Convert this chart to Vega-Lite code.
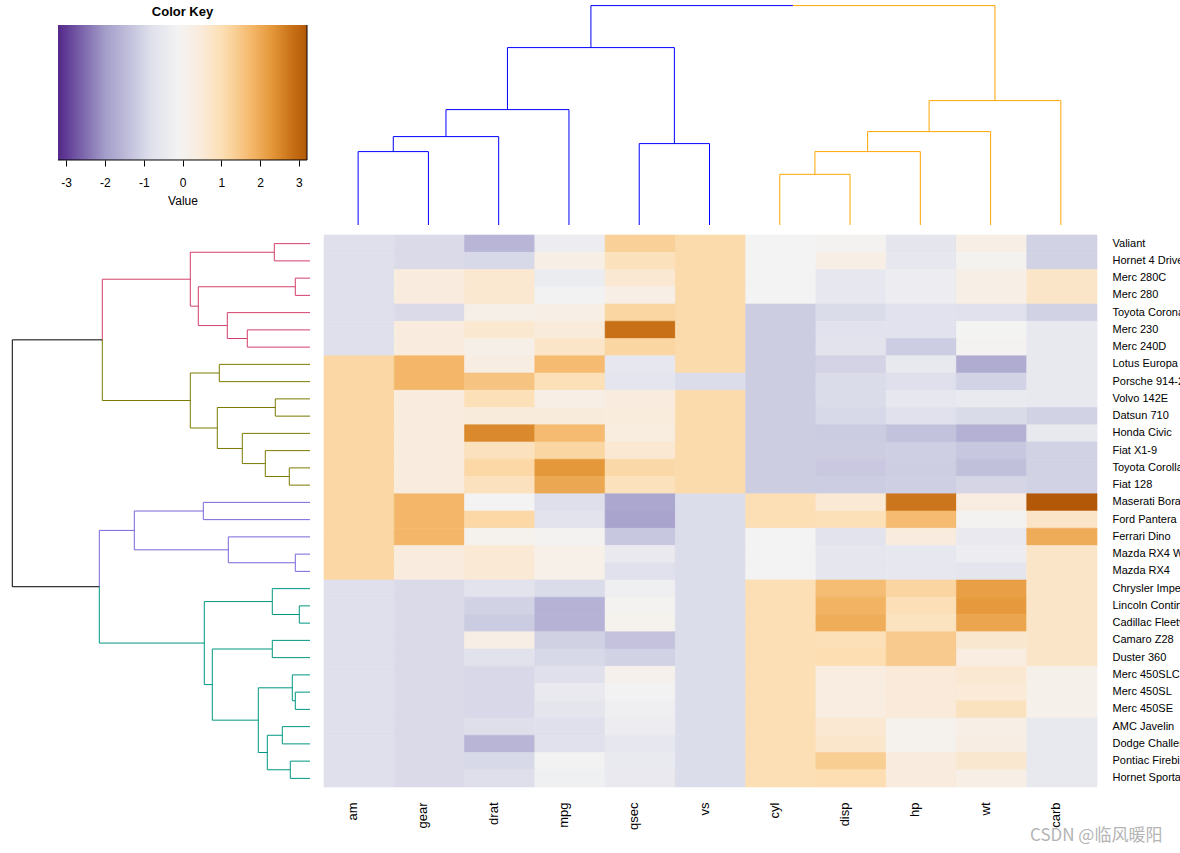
{
 "$schema": "https://vega.github.io/schema/vega-lite/v6.json",
 "padding": {"top": 5, "left": 0, "right": 0, "bottom": 0},
 "config": {"view": {"stroke": null}, "font": "Liberation Sans"},
 "title": {"text": "CSDN @临风暖阳", "orient": "bottom", "anchor": "start", "frame": "bounds", "fontSize": 17, "fontWeight": "normal", "color": "#b4b4b4", "font": "Noto Sans CJK SC", "offset": -1, "dx": 1030},
 "datasets": {
  "key": [{"lo": -3.21, "hi": 3.21, "b": 0, "t": 1}],
  "colTree": [
   {"a":0,"a2":73.4,"b":0,"b2":0,"k":"bl"},
   {"a":0,"a2":73.4,"b":1,"b2":1,"k":"bl"},
   {"a":73.4,"a2":73.4,"b":0,"b2":1,"k":"bl"},
   {"a":73.4,"a2":88.4,"b":0.5,"b2":0.5,"k":"bl"},
   {"a":0,"a2":88.4,"b":2,"b2":2,"k":"bl"},
   {"a":88.4,"a2":88.4,"b":0.5,"b2":2,"k":"bl"},
   {"a":88.4,"a2":115.4,"b":1.25,"b2":1.25,"k":"bl"},
   {"a":0,"a2":115.4,"b":3,"b2":3,"k":"bl"},
   {"a":115.4,"a2":115.4,"b":1.25,"b2":3,"k":"bl"},
   {"a":0,"a2":81.4,"b":4,"b2":4,"k":"bl"},
   {"a":0,"a2":81.4,"b":5,"b2":5,"k":"bl"},
   {"a":81.4,"a2":81.4,"b":4,"b2":5,"k":"bl"},
   {"a":115.4,"a2":177.4,"b":2.125,"b2":2.125,"k":"bl"},
   {"a":81.4,"a2":177.4,"b":4.5,"b2":4.5,"k":"bl"},
   {"a":177.4,"a2":177.4,"b":2.125,"b2":4.5,"k":"bl"},
   {"a":177.4,"a2":219.4,"b":3.3125,"b2":3.3125,"k":"bl"},
   {"a":219.4,"a2":219.4,"b":3.3125,"b2":6.1875,"k":"bl"},
   {"a":0,"a2":50.7,"b":6,"b2":6,"k":"or"},
   {"a":0,"a2":50.7,"b":7,"b2":7,"k":"or"},
   {"a":50.7,"a2":50.7,"b":6,"b2":7,"k":"or"},
   {"a":50.7,"a2":73.4,"b":6.5,"b2":6.5,"k":"or"},
   {"a":0,"a2":73.4,"b":8,"b2":8,"k":"or"},
   {"a":73.4,"a2":73.4,"b":6.5,"b2":8,"k":"or"},
   {"a":73.4,"a2":93.4,"b":7.25,"b2":7.25,"k":"or"},
   {"a":0,"a2":93.4,"b":9,"b2":9,"k":"or"},
   {"a":93.4,"a2":93.4,"b":7.25,"b2":9,"k":"or"},
   {"a":93.4,"a2":124.4,"b":8.125,"b2":8.125,"k":"or"},
   {"a":0,"a2":124.4,"b":10,"b2":10,"k":"or"},
   {"a":124.4,"a2":124.4,"b":8.125,"b2":10,"k":"or"},
   {"a":124.4,"a2":219.4,"b":9.0625,"b2":9.0625,"k":"or"},
   {"a":219.4,"a2":219.4,"b":6.1875,"b2":9.0625,"k":"or"}
  ],
  "rowTree": [
   {"a":0,"a2":35.7,"b":0,"b2":0,"k":"pk"},
   {"a":0,"a2":35.7,"b":1,"b2":1,"k":"pk"},
   {"a":35.7,"a2":35.7,"b":0,"b2":1,"k":"pk"},
   {"a":0,"a2":14.7,"b":2,"b2":2,"k":"pk"},
   {"a":0,"a2":14.7,"b":3,"b2":3,"k":"pk"},
   {"a":14.7,"a2":14.7,"b":2,"b2":3,"k":"pk"},
   {"a":0,"a2":62.7,"b":5,"b2":5,"k":"pk"},
   {"a":0,"a2":62.7,"b":6,"b2":6,"k":"pk"},
   {"a":62.7,"a2":62.7,"b":5,"b2":6,"k":"pk"},
   {"a":0,"a2":82.7,"b":4,"b2":4,"k":"pk"},
   {"a":62.7,"a2":82.7,"b":5.5,"b2":5.5,"k":"pk"},
   {"a":82.7,"a2":82.7,"b":4,"b2":5.5,"k":"pk"},
   {"a":14.7,"a2":111.7,"b":2.5,"b2":2.5,"k":"pk"},
   {"a":82.7,"a2":111.7,"b":4.75,"b2":4.75,"k":"pk"},
   {"a":111.7,"a2":111.7,"b":2.5,"b2":4.75,"k":"pk"},
   {"a":35.7,"a2":119.7,"b":0.5,"b2":0.5,"k":"pk"},
   {"a":111.7,"a2":119.7,"b":3.625,"b2":3.625,"k":"pk"},
   {"a":119.7,"a2":119.7,"b":0.5,"b2":3.625,"k":"pk"},
   {"a":119.7,"a2":207.7,"b":2.0625,"b2":2.0625,"k":"pk"},
   {"a":207.7,"a2":207.7,"b":2.0625,"b2":5.578,"k":"pk"},
   {"a":0,"a2":90.7,"b":7,"b2":7,"k":"ol"},
   {"a":0,"a2":90.7,"b":8,"b2":8,"k":"ol"},
   {"a":90.7,"a2":90.7,"b":7,"b2":8,"k":"ol"},
   {"a":0,"a2":34.7,"b":9,"b2":9,"k":"ol"},
   {"a":0,"a2":34.7,"b":10,"b2":10,"k":"ol"},
   {"a":34.7,"a2":34.7,"b":9,"b2":10,"k":"ol"},
   {"a":0,"a2":20.7,"b":13,"b2":13,"k":"ol"},
   {"a":0,"a2":20.7,"b":14,"b2":14,"k":"ol"},
   {"a":20.7,"a2":20.7,"b":13,"b2":14,"k":"ol"},
   {"a":0,"a2":44.7,"b":12,"b2":12,"k":"ol"},
   {"a":20.7,"a2":44.7,"b":13.5,"b2":13.5,"k":"ol"},
   {"a":44.7,"a2":44.7,"b":12,"b2":13.5,"k":"ol"},
   {"a":0,"a2":67.7,"b":11,"b2":11,"k":"ol"},
   {"a":44.7,"a2":67.7,"b":12.75,"b2":12.75,"k":"ol"},
   {"a":67.7,"a2":67.7,"b":11,"b2":12.75,"k":"ol"},
   {"a":34.7,"a2":92.7,"b":9.5,"b2":9.5,"k":"ol"},
   {"a":67.7,"a2":92.7,"b":11.875,"b2":11.875,"k":"ol"},
   {"a":92.7,"a2":92.7,"b":9.5,"b2":11.875,"k":"ol"},
   {"a":90.7,"a2":119.7,"b":7.5,"b2":7.5,"k":"ol"},
   {"a":92.7,"a2":119.7,"b":10.6875,"b2":10.6875,"k":"ol"},
   {"a":119.7,"a2":119.7,"b":7.5,"b2":10.6875,"k":"ol"},
   {"a":119.7,"a2":207.7,"b":9.094,"b2":9.094,"k":"ol"},
   {"a":207.7,"a2":207.7,"b":5.578,"b2":9.094,"k":"ol"},
   {"a":0,"a2":106.7,"b":15,"b2":15,"k":"pu"},
   {"a":0,"a2":106.7,"b":16,"b2":16,"k":"pu"},
   {"a":106.7,"a2":106.7,"b":15,"b2":16,"k":"pu"},
   {"a":0,"a2":14.7,"b":18,"b2":18,"k":"pu"},
   {"a":0,"a2":14.7,"b":19,"b2":19,"k":"pu"},
   {"a":14.7,"a2":14.7,"b":18,"b2":19,"k":"pu"},
   {"a":0,"a2":81.7,"b":17,"b2":17,"k":"pu"},
   {"a":14.7,"a2":81.7,"b":18.5,"b2":18.5,"k":"pu"},
   {"a":81.7,"a2":81.7,"b":17,"b2":18.5,"k":"pu"},
   {"a":106.7,"a2":175.7,"b":15.5,"b2":15.5,"k":"pu"},
   {"a":81.7,"a2":175.7,"b":17.75,"b2":17.75,"k":"pu"},
   {"a":175.7,"a2":175.7,"b":15.5,"b2":17.75,"k":"pu"},
   {"a":175.7,"a2":210.7,"b":16.625,"b2":16.625,"k":"pu"},
   {"a":210.7,"a2":210.7,"b":16.625,"b2":19.89,"k":"pu"},
   {"a":0,"a2":10.7,"b":21,"b2":21,"k":"te"},
   {"a":0,"a2":10.7,"b":22,"b2":22,"k":"te"},
   {"a":10.7,"a2":10.7,"b":21,"b2":22,"k":"te"},
   {"a":0,"a2":37.7,"b":20,"b2":20,"k":"te"},
   {"a":10.7,"a2":37.7,"b":21.5,"b2":21.5,"k":"te"},
   {"a":37.7,"a2":37.7,"b":20,"b2":21.5,"k":"te"},
   {"a":0,"a2":37.7,"b":23,"b2":23,"k":"te"},
   {"a":0,"a2":37.7,"b":24,"b2":24,"k":"te"},
   {"a":37.7,"a2":37.7,"b":23,"b2":24,"k":"te"},
   {"a":0,"a2":14.7,"b":26,"b2":26,"k":"te"},
   {"a":0,"a2":14.7,"b":27,"b2":27,"k":"te"},
   {"a":14.7,"a2":14.7,"b":26,"b2":27,"k":"te"},
   {"a":0,"a2":17.7,"b":25,"b2":25,"k":"te"},
   {"a":14.7,"a2":17.7,"b":26.5,"b2":26.5,"k":"te"},
   {"a":17.7,"a2":17.7,"b":25,"b2":26.5,"k":"te"},
   {"a":0,"a2":27.7,"b":28,"b2":28,"k":"te"},
   {"a":0,"a2":27.7,"b":29,"b2":29,"k":"te"},
   {"a":27.7,"a2":27.7,"b":28,"b2":29,"k":"te"},
   {"a":0,"a2":19.7,"b":30,"b2":30,"k":"te"},
   {"a":0,"a2":19.7,"b":31,"b2":31,"k":"te"},
   {"a":19.7,"a2":19.7,"b":30,"b2":31,"k":"te"},
   {"a":27.7,"a2":42.7,"b":28.5,"b2":28.5,"k":"te"},
   {"a":19.7,"a2":42.7,"b":30.5,"b2":30.5,"k":"te"},
   {"a":42.7,"a2":42.7,"b":28.5,"b2":30.5,"k":"te"},
   {"a":17.7,"a2":51.7,"b":25.75,"b2":25.75,"k":"te"},
   {"a":42.7,"a2":51.7,"b":29.5,"b2":29.5,"k":"te"},
   {"a":51.7,"a2":51.7,"b":25.75,"b2":29.5,"k":"te"},
   {"a":37.7,"a2":97.7,"b":23.5,"b2":23.5,"k":"te"},
   {"a":51.7,"a2":97.7,"b":27.625,"b2":27.625,"k":"te"},
   {"a":97.7,"a2":97.7,"b":23.5,"b2":27.625,"k":"te"},
   {"a":37.7,"a2":105.7,"b":20.75,"b2":20.75,"k":"te"},
   {"a":97.7,"a2":105.7,"b":25.5625,"b2":25.5625,"k":"te"},
   {"a":105.7,"a2":105.7,"b":20.75,"b2":25.5625,"k":"te"},
   {"a":105.7,"a2":210.7,"b":23.156,"b2":23.156,"k":"te"},
   {"a":210.7,"a2":210.7,"b":19.89,"b2":23.156,"k":"te"},
   {"a":207.7,"a2":297.7,"b":5.578,"b2":5.578,"k":"bk"},
   {"a":210.7,"a2":297.7,"b":19.89,"b2":19.89,"k":"bk"},
   {"a":297.7,"a2":297.7,"b":5.578,"b2":19.89,"k":"bk"}
  ],
  "cells": [
   {"r":"Valiant","c":"am","z":-0.81},{"r":"Valiant","c":"gear","z":-0.93},{"r":"Valiant","c":"drat","z":-1.56},{"r":"Valiant","c":"mpg","z":-0.35},{"r":"Valiant","c":"qsec","z":1.33},{"r":"Valiant","c":"vs","z":1.12},{"r":"Valiant","c":"cyl","z":-0.1},{"r":"Valiant","c":"disp","z":-0.05},{"r":"Valiant","c":"hp","z":-0.61},{"r":"Valiant","c":"wt","z":0.25},{"r":"Valiant","c":"carb","z":-1.12},
   {"r":"Hornet 4 Drive","c":"am","z":-0.81},{"r":"Hornet 4 Drive","c":"gear","z":-0.93},{"r":"Hornet 4 Drive","c":"drat","z":-0.97},{"r":"Hornet 4 Drive","c":"mpg","z":0.22},{"r":"Hornet 4 Drive","c":"qsec","z":0.89},{"r":"Hornet 4 Drive","c":"vs","z":1.12},{"r":"Hornet 4 Drive","c":"cyl","z":-0.1},{"r":"Hornet 4 Drive","c":"disp","z":0.22},{"r":"Hornet 4 Drive","c":"hp","z":-0.54},{"r":"Hornet 4 Drive","c":"wt","z":0.0},{"r":"Hornet 4 Drive","c":"carb","z":-1.12},
   {"r":"Merc 280C","c":"am","z":-0.81},{"r":"Merc 280C","c":"gear","z":0.42},{"r":"Merc 280C","c":"drat","z":0.61},{"r":"Merc 280C","c":"mpg","z":-0.38},{"r":"Merc 280C","c":"qsec","z":0.59},{"r":"Merc 280C","c":"vs","z":1.12},{"r":"Merc 280C","c":"cyl","z":-0.1},{"r":"Merc 280C","c":"disp","z":-0.51},{"r":"Merc 280C","c":"hp","z":-0.35},{"r":"Merc 280C","c":"wt","z":0.23},{"r":"Merc 280C","c":"carb","z":0.74},
   {"r":"Merc 280","c":"am","z":-0.81},{"r":"Merc 280","c":"gear","z":0.42},{"r":"Merc 280","c":"drat","z":0.61},{"r":"Merc 280","c":"mpg","z":-0.15},{"r":"Merc 280","c":"qsec","z":0.25},{"r":"Merc 280","c":"vs","z":1.12},{"r":"Merc 280","c":"cyl","z":-0.1},{"r":"Merc 280","c":"disp","z":-0.51},{"r":"Merc 280","c":"hp","z":-0.35},{"r":"Merc 280","c":"wt","z":0.23},{"r":"Merc 280","c":"carb","z":0.74},
   {"r":"Toyota Corona","c":"am","z":-0.81},{"r":"Toyota Corona","c":"gear","z":-0.93},{"r":"Toyota Corona","c":"drat","z":0.19},{"r":"Toyota Corona","c":"mpg","z":0.23},{"r":"Toyota Corona","c":"qsec","z":1.21},{"r":"Toyota Corona","c":"vs","z":1.12},{"r":"Toyota Corona","c":"cyl","z":-1.22},{"r":"Toyota Corona","c":"disp","z":-0.89},{"r":"Toyota Corona","c":"hp","z":-0.73},{"r":"Toyota Corona","c":"wt","z":-0.77},{"r":"Toyota Corona","c":"carb","z":-1.12},
   {"r":"Merc 230","c":"am","z":-0.81},{"r":"Merc 230","c":"gear","z":0.42},{"r":"Merc 230","c":"drat","z":0.61},{"r":"Merc 230","c":"mpg","z":0.45},{"r":"Merc 230","c":"qsec","z":2.83},{"r":"Merc 230","c":"vs","z":1.12},{"r":"Merc 230","c":"cyl","z":-1.22},{"r":"Merc 230","c":"disp","z":-0.73},{"r":"Merc 230","c":"hp","z":-0.75},{"r":"Merc 230","c":"wt","z":-0.07},{"r":"Merc 230","c":"carb","z":-0.5},
   {"r":"Merc 240D","c":"am","z":-0.81},{"r":"Merc 240D","c":"gear","z":0.42},{"r":"Merc 240D","c":"drat","z":0.18},{"r":"Merc 240D","c":"mpg","z":0.72},{"r":"Merc 240D","c":"qsec","z":1.2},{"r":"Merc 240D","c":"vs","z":1.12},{"r":"Merc 240D","c":"cyl","z":-1.22},{"r":"Merc 240D","c":"disp","z":-0.68},{"r":"Merc 240D","c":"hp","z":-1.23},{"r":"Merc 240D","c":"wt","z":-0.03},{"r":"Merc 240D","c":"carb","z":-0.5},
   {"r":"Lotus Europa","c":"am","z":1.19},{"r":"Lotus Europa","c":"gear","z":1.78},{"r":"Lotus Europa","c":"drat","z":0.32},{"r":"Lotus Europa","c":"mpg","z":1.71},{"r":"Lotus Europa","c":"qsec","z":-0.53},{"r":"Lotus Europa","c":"vs","z":1.12},{"r":"Lotus Europa","c":"cyl","z":-1.22},{"r":"Lotus Europa","c":"disp","z":-1.09},{"r":"Lotus Europa","c":"hp","z":-0.49},{"r":"Lotus Europa","c":"wt","z":-1.74},{"r":"Lotus Europa","c":"carb","z":-0.5},
   {"r":"Porsche 914-2","c":"am","z":1.19},{"r":"Porsche 914-2","c":"gear","z":1.78},{"r":"Porsche 914-2","c":"drat","z":1.56},{"r":"Porsche 914-2","c":"mpg","z":0.98},{"r":"Porsche 914-2","c":"qsec","z":-0.64},{"r":"Porsche 914-2","c":"vs","z":-0.87},{"r":"Porsche 914-2","c":"cyl","z":-1.22},{"r":"Porsche 914-2","c":"disp","z":-0.89},{"r":"Porsche 914-2","c":"hp","z":-0.81},{"r":"Porsche 914-2","c":"wt","z":-1.1},{"r":"Porsche 914-2","c":"carb","z":-0.5},
   {"r":"Volvo 142E","c":"am","z":1.19},{"r":"Volvo 142E","c":"gear","z":0.42},{"r":"Volvo 142E","c":"drat","z":0.96},{"r":"Volvo 142E","c":"mpg","z":0.22},{"r":"Volvo 142E","c":"qsec","z":0.42},{"r":"Volvo 142E","c":"vs","z":1.12},{"r":"Volvo 142E","c":"cyl","z":-1.22},{"r":"Volvo 142E","c":"disp","z":-0.89},{"r":"Volvo 142E","c":"hp","z":-0.55},{"r":"Volvo 142E","c":"wt","z":-0.45},{"r":"Volvo 142E","c":"carb","z":-0.5},
   {"r":"Datsun 710","c":"am","z":1.19},{"r":"Datsun 710","c":"gear","z":0.42},{"r":"Datsun 710","c":"drat","z":0.47},{"r":"Datsun 710","c":"mpg","z":0.45},{"r":"Datsun 710","c":"qsec","z":0.43},{"r":"Datsun 710","c":"vs","z":1.12},{"r":"Datsun 710","c":"cyl","z":-1.22},{"r":"Datsun 710","c":"disp","z":-0.99},{"r":"Datsun 710","c":"hp","z":-0.78},{"r":"Datsun 710","c":"wt","z":-0.92},{"r":"Datsun 710","c":"carb","z":-1.12},
   {"r":"Honda Civic","c":"am","z":1.19},{"r":"Honda Civic","c":"gear","z":0.42},{"r":"Honda Civic","c":"drat","z":2.49},{"r":"Honda Civic","c":"mpg","z":1.71},{"r":"Honda Civic","c":"qsec","z":0.38},{"r":"Honda Civic","c":"vs","z":1.12},{"r":"Honda Civic","c":"cyl","z":-1.22},{"r":"Honda Civic","c":"disp","z":-1.25},{"r":"Honda Civic","c":"hp","z":-1.38},{"r":"Honda Civic","c":"wt","z":-1.64},{"r":"Honda Civic","c":"carb","z":-0.5},
   {"r":"Fiat X1-9","c":"am","z":1.19},{"r":"Fiat X1-9","c":"gear","z":0.42},{"r":"Fiat X1-9","c":"drat","z":0.9},{"r":"Fiat X1-9","c":"mpg","z":1.2},{"r":"Fiat X1-9","c":"qsec","z":0.59},{"r":"Fiat X1-9","c":"vs","z":1.12},{"r":"Fiat X1-9","c":"cyl","z":-1.22},{"r":"Fiat X1-9","c":"disp","z":-1.22},{"r":"Fiat X1-9","c":"hp","z":-1.18},{"r":"Fiat X1-9","c":"wt","z":-1.31},{"r":"Fiat X1-9","c":"carb","z":-1.12},
   {"r":"Toyota Corolla","c":"am","z":1.19},{"r":"Toyota Corolla","c":"gear","z":0.42},{"r":"Toyota Corolla","c":"drat","z":1.17},{"r":"Toyota Corolla","c":"mpg","z":2.29},{"r":"Toyota Corolla","c":"qsec","z":1.15},{"r":"Toyota Corolla","c":"vs","z":1.12},{"r":"Toyota Corolla","c":"cyl","z":-1.22},{"r":"Toyota Corolla","c":"disp","z":-1.29},{"r":"Toyota Corolla","c":"hp","z":-1.19},{"r":"Toyota Corolla","c":"wt","z":-1.41},{"r":"Toyota Corolla","c":"carb","z":-1.12},
   {"r":"Fiat 128","c":"am","z":1.19},{"r":"Fiat 128","c":"gear","z":0.42},{"r":"Fiat 128","c":"drat","z":0.9},{"r":"Fiat 128","c":"mpg","z":2.04},{"r":"Fiat 128","c":"qsec","z":0.91},{"r":"Fiat 128","c":"vs","z":1.12},{"r":"Fiat 128","c":"cyl","z":-1.22},{"r":"Fiat 128","c":"disp","z":-1.23},{"r":"Fiat 128","c":"hp","z":-1.18},{"r":"Fiat 128","c":"wt","z":-1.04},{"r":"Fiat 128","c":"carb","z":-1.12},
   {"r":"Maserati Bora","c":"am","z":1.19},{"r":"Maserati Bora","c":"gear","z":1.78},{"r":"Maserati Bora","c":"drat","z":-0.11},{"r":"Maserati Bora","c":"mpg","z":-0.84},{"r":"Maserati Bora","c":"qsec","z":-1.82},{"r":"Maserati Bora","c":"vs","z":-0.87},{"r":"Maserati Bora","c":"cyl","z":1.01},{"r":"Maserati Bora","c":"disp","z":0.57},{"r":"Maserati Bora","c":"hp","z":2.75},{"r":"Maserati Bora","c":"wt","z":0.36},{"r":"Maserati Bora","c":"carb","z":3.21},
   {"r":"Ford Pantera L","c":"am","z":1.19},{"r":"Ford Pantera L","c":"gear","z":1.78},{"r":"Ford Pantera L","c":"drat","z":1.17},{"r":"Ford Pantera L","c":"mpg","z":-0.71},{"r":"Ford Pantera L","c":"qsec","z":-1.87},{"r":"Ford Pantera L","c":"vs","z":-0.87},{"r":"Ford Pantera L","c":"cyl","z":1.01},{"r":"Ford Pantera L","c":"disp","z":0.97},{"r":"Ford Pantera L","c":"hp","z":1.71},{"r":"Ford Pantera L","c":"wt","z":-0.05},{"r":"Ford Pantera L","c":"carb","z":0.74},
   {"r":"Ferrari Dino","c":"am","z":1.19},{"r":"Ferrari Dino","c":"gear","z":1.78},{"r":"Ferrari Dino","c":"drat","z":0.04},{"r":"Ferrari Dino","c":"mpg","z":-0.06},{"r":"Ferrari Dino","c":"qsec","z":-1.31},{"r":"Ferrari Dino","c":"vs","z":-0.87},{"r":"Ferrari Dino","c":"cyl","z":-0.1},{"r":"Ferrari Dino","c":"disp","z":-0.69},{"r":"Ferrari Dino","c":"hp","z":0.41},{"r":"Ferrari Dino","c":"wt","z":-0.46},{"r":"Ferrari Dino","c":"carb","z":1.97},
   {"r":"Mazda RX4 Wag","c":"am","z":1.19},{"r":"Mazda RX4 Wag","c":"gear","z":0.42},{"r":"Mazda RX4 Wag","c":"drat","z":0.57},{"r":"Mazda RX4 Wag","c":"mpg","z":0.15},{"r":"Mazda RX4 Wag","c":"qsec","z":-0.46},{"r":"Mazda RX4 Wag","c":"vs","z":-0.87},{"r":"Mazda RX4 Wag","c":"cyl","z":-0.1},{"r":"Mazda RX4 Wag","c":"disp","z":-0.57},{"r":"Mazda RX4 Wag","c":"hp","z":-0.54},{"r":"Mazda RX4 Wag","c":"wt","z":-0.35},{"r":"Mazda RX4 Wag","c":"carb","z":0.74},
   {"r":"Mazda RX4","c":"am","z":1.19},{"r":"Mazda RX4","c":"gear","z":0.42},{"r":"Mazda RX4","c":"drat","z":0.57},{"r":"Mazda RX4","c":"mpg","z":0.15},{"r":"Mazda RX4","c":"qsec","z":-0.78},{"r":"Mazda RX4","c":"vs","z":-0.87},{"r":"Mazda RX4","c":"cyl","z":-0.1},{"r":"Mazda RX4","c":"disp","z":-0.57},{"r":"Mazda RX4","c":"hp","z":-0.54},{"r":"Mazda RX4","c":"wt","z":-0.61},{"r":"Mazda RX4","c":"carb","z":0.74},
   {"r":"Chrysler Imperial","c":"am","z":-0.81},{"r":"Chrysler Imperial","c":"gear","z":-0.93},{"r":"Chrysler Imperial","c":"drat","z":-0.69},{"r":"Chrysler Imperial","c":"mpg","z":-0.89},{"r":"Chrysler Imperial","c":"qsec","z":-0.24},{"r":"Chrysler Imperial","c":"vs","z":-0.87},{"r":"Chrysler Imperial","c":"cyl","z":1.01},{"r":"Chrysler Imperial","c":"disp","z":1.69},{"r":"Chrysler Imperial","c":"hp","z":1.22},{"r":"Chrysler Imperial","c":"wt","z":2.17},{"r":"Chrysler Imperial","c":"carb","z":0.74},
   {"r":"Lincoln Continental","c":"am","z":-0.81},{"r":"Lincoln Continental","c":"gear","z":-0.93},{"r":"Lincoln Continental","c":"drat","z":-1.12},{"r":"Lincoln Continental","c":"mpg","z":-1.61},{"r":"Lincoln Continental","c":"qsec","z":-0.02},{"r":"Lincoln Continental","c":"vs","z":-0.87},{"r":"Lincoln Continental","c":"cyl","z":1.01},{"r":"Lincoln Continental","c":"disp","z":1.85},{"r":"Lincoln Continental","c":"hp","z":1.0},{"r":"Lincoln Continental","c":"wt","z":2.26},{"r":"Lincoln Continental","c":"carb","z":0.74},
   {"r":"Cadillac Fleetwood","c":"am","z":-0.81},{"r":"Cadillac Fleetwood","c":"gear","z":-0.93},{"r":"Cadillac Fleetwood","c":"drat","z":-1.25},{"r":"Cadillac Fleetwood","c":"mpg","z":-1.61},{"r":"Cadillac Fleetwood","c":"qsec","z":0.07},{"r":"Cadillac Fleetwood","c":"vs","z":-0.87},{"r":"Cadillac Fleetwood","c":"cyl","z":1.01},{"r":"Cadillac Fleetwood","c":"disp","z":1.95},{"r":"Cadillac Fleetwood","c":"hp","z":0.85},{"r":"Cadillac Fleetwood","c":"wt","z":2.08},{"r":"Cadillac Fleetwood","c":"carb","z":0.74},
   {"r":"Camaro Z28","c":"am","z":-0.81},{"r":"Camaro Z28","c":"gear","z":-0.93},{"r":"Camaro Z28","c":"drat","z":0.25},{"r":"Camaro Z28","c":"mpg","z":-1.13},{"r":"Camaro Z28","c":"qsec","z":-1.37},{"r":"Camaro Z28","c":"vs","z":-0.87},{"r":"Camaro Z28","c":"cyl","z":1.01},{"r":"Camaro Z28","c":"disp","z":0.96},{"r":"Camaro Z28","c":"hp","z":1.43},{"r":"Camaro Z28","c":"wt","z":0.64},{"r":"Camaro Z28","c":"carb","z":0.74},
   {"r":"Duster 360","c":"am","z":-0.81},{"r":"Duster 360","c":"gear","z":-0.93},{"r":"Duster 360","c":"drat","z":-0.72},{"r":"Duster 360","c":"mpg","z":-0.96},{"r":"Duster 360","c":"qsec","z":-1.12},{"r":"Duster 360","c":"vs","z":-0.87},{"r":"Duster 360","c":"cyl","z":1.01},{"r":"Duster 360","c":"disp","z":1.04},{"r":"Duster 360","c":"hp","z":1.43},{"r":"Duster 360","c":"wt","z":0.36},{"r":"Duster 360","c":"carb","z":0.74},
   {"r":"Merc 450SLC","c":"am","z":-0.81},{"r":"Merc 450SLC","c":"gear","z":-0.93},{"r":"Merc 450SLC","c":"drat","z":-0.98},{"r":"Merc 450SLC","c":"mpg","z":-0.81},{"r":"Merc 450SLC","c":"qsec","z":0.09},{"r":"Merc 450SLC","c":"vs","z":-0.87},{"r":"Merc 450SLC","c":"cyl","z":1.01},{"r":"Merc 450SLC","c":"disp","z":0.36},{"r":"Merc 450SLC","c":"hp","z":0.49},{"r":"Merc 450SLC","c":"wt","z":0.58},{"r":"Merc 450SLC","c":"carb","z":0.12},
   {"r":"Merc 450SL","c":"am","z":-0.81},{"r":"Merc 450SL","c":"gear","z":-0.93},{"r":"Merc 450SL","c":"drat","z":-0.98},{"r":"Merc 450SL","c":"mpg","z":-0.46},{"r":"Merc 450SL","c":"qsec","z":-0.14},{"r":"Merc 450SL","c":"vs","z":-0.87},{"r":"Merc 450SL","c":"cyl","z":1.01},{"r":"Merc 450SL","c":"disp","z":0.36},{"r":"Merc 450SL","c":"hp","z":0.49},{"r":"Merc 450SL","c":"wt","z":0.52},{"r":"Merc 450SL","c":"carb","z":0.12},
   {"r":"Merc 450SE","c":"am","z":-0.81},{"r":"Merc 450SE","c":"gear","z":-0.93},{"r":"Merc 450SE","c":"drat","z":-0.98},{"r":"Merc 450SE","c":"mpg","z":-0.61},{"r":"Merc 450SE","c":"qsec","z":-0.25},{"r":"Merc 450SE","c":"vs","z":-0.87},{"r":"Merc 450SE","c":"cyl","z":1.01},{"r":"Merc 450SE","c":"disp","z":0.36},{"r":"Merc 450SE","c":"hp","z":0.49},{"r":"Merc 450SE","c":"wt","z":0.87},{"r":"Merc 450SE","c":"carb","z":0.12},
   {"r":"AMC Javelin","c":"am","z":-0.81},{"r":"AMC Javelin","c":"gear","z":-0.93},{"r":"AMC Javelin","c":"drat","z":-0.84},{"r":"AMC Javelin","c":"mpg","z":-0.81},{"r":"AMC Javelin","c":"qsec","z":-0.31},{"r":"AMC Javelin","c":"vs","z":-0.87},{"r":"AMC Javelin","c":"cyl","z":1.01},{"r":"AMC Javelin","c":"disp","z":0.59},{"r":"AMC Javelin","c":"hp","z":0.05},{"r":"AMC Javelin","c":"wt","z":0.22},{"r":"AMC Javelin","c":"carb","z":-0.5},
   {"r":"Dodge Challenger","c":"am","z":-0.81},{"r":"Dodge Challenger","c":"gear","z":-0.93},{"r":"Dodge Challenger","c":"drat","z":-1.56},{"r":"Dodge Challenger","c":"mpg","z":-0.76},{"r":"Dodge Challenger","c":"qsec","z":-0.55},{"r":"Dodge Challenger","c":"vs","z":-0.87},{"r":"Dodge Challenger","c":"cyl","z":1.01},{"r":"Dodge Challenger","c":"disp","z":0.7},{"r":"Dodge Challenger","c":"hp","z":0.05},{"r":"Dodge Challenger","c":"wt","z":0.31},{"r":"Dodge Challenger","c":"carb","z":-0.5},
   {"r":"Pontiac Firebird","c":"am","z":-0.81},{"r":"Pontiac Firebird","c":"gear","z":-0.93},{"r":"Pontiac Firebird","c":"drat","z":-0.97},{"r":"Pontiac Firebird","c":"mpg","z":-0.15},{"r":"Pontiac Firebird","c":"qsec","z":-0.45},{"r":"Pontiac Firebird","c":"vs","z":-0.87},{"r":"Pontiac Firebird","c":"cyl","z":1.01},{"r":"Pontiac Firebird","c":"disp","z":1.37},{"r":"Pontiac Firebird","c":"hp","z":0.41},{"r":"Pontiac Firebird","c":"wt","z":0.64},{"r":"Pontiac Firebird","c":"carb","z":-0.5},
   {"r":"Hornet Sportabout","c":"am","z":-0.81},{"r":"Hornet Sportabout","c":"gear","z":-0.93},{"r":"Hornet Sportabout","c":"drat","z":-0.84},{"r":"Hornet Sportabout","c":"mpg","z":-0.23},{"r":"Hornet Sportabout","c":"qsec","z":-0.46},{"r":"Hornet Sportabout","c":"vs","z":-0.87},{"r":"Hornet Sportabout","c":"cyl","z":1.01},{"r":"Hornet Sportabout","c":"disp","z":1.04},{"r":"Hornet Sportabout","c":"hp","z":0.41},{"r":"Hornet Sportabout","c":"wt","z":0.23},{"r":"Hornet Sportabout","c":"carb","z":-0.5}
  ]
 },
 "vconcat": [
  {
   "hconcat": [
    {
     "width": 307, "height": 220,
     "data": {"name": "key"},
     "layer": [
      {
       "mark": {"type": "rect", "color": {"gradient": "linear", "x1": 0, "y1": 0, "x2": 1, "y2": 0, "stops": [
         {"offset": 0, "color": "#542788"},
         {"offset": 0.0327, "color": "#603c96"},
         {"offset": 0.1885, "color": "#a39dc9"},
         {"offset": 0.257, "color": "#b8b5d6"},
         {"offset": 0.3209, "color": "#cdcde2"},
         {"offset": 0.3738, "color": "#dfe0ec"},
         {"offset": 0.4844, "color": "#f3f3f3"},
         {"offset": 0.5654, "color": "#f9ecde"},
         {"offset": 0.6573, "color": "#fcdfb5"},
         {"offset": 0.7072, "color": "#f9d097"},
         {"offset": 0.7773, "color": "#f4b76a"},
         {"offset": 0.8567, "color": "#e5983a"},
         {"offset": 0.9408, "color": "#c77017"},
         {"offset": 1, "color": "#b35806"}
       ]}},
       "encoding": {
        "x": {"field": "lo", "type": "quantitative", "scale": {"domain": [-4.7056, 3.21], "nice": false, "zero": false},
              "axis": {"values": [-3, -2, -1, 0, 1, 2, 3], "labelExpr": "'' + datum.value", "offset": -65, "domain": false, "ticks": true, "tickSize": 6, "tickColor": "black", "labelFontSize": 12, "labelColor": "black", "labelPadding": 11, "title": "Value", "titleFontSize": 12, "titleFontWeight": "normal", "titleColor": "black", "titlePadding": 7, "titleX": 182.5, "grid": false}},
        "x2": {"field": "hi"},
        "y": {"field": "b", "type": "quantitative", "scale": {"domain": [-0.4815, 1.1481], "nice": false, "zero": false}, "axis": null},
        "y2": {"field": "t"}
       }
      },
      {
       "mark": {"type": "rule", "color": "black", "strokeWidth": 1},
       "encoding": {
        "x": {"field": "hi", "type": "quantitative"},
        "y": {"field": "b", "type": "quantitative", "axis": null},
        "y2": {"field": "t"}
       }
      },
      {
       "mark": {"type": "rule", "color": "black", "strokeWidth": 1},
       "encoding": {
        "x": {"field": "lo", "type": "quantitative"},
        "x2": {"field": "hi"},
        "y": {"field": "b", "type": "quantitative", "axis": null}
       }
      },
      {
       "mark": {"type": "text", "text": "Color Key", "fontSize": 13, "fontWeight": "bold", "color": "black", "baseline": "middle", "align": "center"},
       "encoding": {
        "x": {"datum": 0, "type": "quantitative"},
        "y": {"datum": 1.0963, "type": "quantitative", "axis": null}
       }
      }
     ]
    },
    {
     "width": 773, "height": 220,
     "data": {"name": "colTree"},
     "mark": {"type": "rule", "strokeWidth": 1},
     "encoding": {
      "x": {"field": "b", "type": "quantitative", "scale": {"domain": [-0.5, 10.5], "nice": false, "zero": false}, "axis": null},
      "x2": {"field": "b2"},
      "y": {"field": "a", "type": "quantitative", "scale": {"domain": [0, 220], "nice": false}, "axis": null},
      "y2": {"field": "a2"},
      "color": {"field": "k", "type": "nominal", "scale": {"domain": ["pk", "ol", "pu", "te", "bk", "bl", "or"], "range": ["#d33f6a", "#7a7a00", "#7b64d9", "#009680", "#000000", "#0000ff", "#ffa500"]}, "legend": null}
     }
    }
   ],
   "spacing": 15
  },
  {
   "hconcat": [
    {
     "width": 310, "height": 552,
     "data": {"name": "rowTree"},
     "mark": {"type": "rule", "strokeWidth": 1},
     "encoding": {
      "x": {"field": "a", "type": "quantitative", "scale": {"domain": [0, 310], "nice": false, "reverse": true}, "axis": null},
      "x2": {"field": "a2"},
      "y": {"field": "b", "type": "quantitative", "scale": {"domain": [-0.5, 31.5], "nice": false, "zero": false, "reverse": true}, "axis": null},
      "y2": {"field": "b2"},
      "color": {"field": "k", "type": "nominal", "scale": {"domain": ["pk", "ol", "pu", "te", "bk", "bl", "or"], "range": ["#d33f6a", "#7a7a00", "#7b64d9", "#009680", "#000000", "#0000ff", "#ffa500"]}, "legend": null}
     }
    },
    {
     "width": 773, "height": 552,
     "data": {"name": "cells"},
     "mark": {"type": "rect", "strokeWidth": 0.6},
     "encoding": {
      "x": {"field": "c", "type": "nominal", "sort": ["am", "gear", "drat", "mpg", "qsec", "vs", "cyl", "disp", "hp", "wt", "carb"], "scale": {"paddingInner": 0, "paddingOuter": 0},
            "axis": {"orient": "bottom", "labelAngle": 270, "labelFontSize": 13, "labelColor": "black", "labelPadding": 15, "labelOffset": -6, "ticks": false, "tickSize": 0, "domain": false, "title": null}},
      "y": {"field": "r", "type": "nominal", "sort": ["Valiant", "Hornet 4 Drive", "Merc 280C", "Merc 280", "Toyota Corona", "Merc 230", "Merc 240D", "Lotus Europa", "Porsche 914-2", "Volvo 142E", "Datsun 710", "Honda Civic", "Fiat X1-9", "Toyota Corolla", "Fiat 128", "Maserati Bora", "Ford Pantera L", "Ferrari Dino", "Mazda RX4 Wag", "Mazda RX4", "Chrysler Imperial", "Lincoln Continental", "Cadillac Fleetwood", "Camaro Z28", "Duster 360", "Merc 450SLC", "Merc 450SL", "Merc 450SE", "AMC Javelin", "Dodge Challenger", "Pontiac Firebird", "Hornet Sportabout"], "scale": {"paddingInner": 0, "paddingOuter": 0},
            "axis": {"orient": "right", "labelFontSize": 11, "labelColor": "black", "labelPadding": 15, "ticks": false, "tickSize": 0, "domain": false, "title": null, "labelLimit": 300}},
      "color": {"field": "z", "type": "quantitative", "scale": {"type": "linear", "domain": [-3.21, -3.0, -2.0, -1.56, -1.22, -0.81, -0.1, 0.42, 1.01, 1.33, 1.78, 2.29, 2.83, 3.21], "range": ["#542788", "#603c96", "#a39dc9", "#b8b5d6", "#cdcde2", "#dfe0ec", "#f3f3f3", "#f9ecde", "#fcdfb5", "#f9d097", "#f4b76a", "#e5983a", "#c77017", "#b35806"], "interpolate": "rgb"}, "legend": null},
      "stroke": {"field": "z", "type": "quantitative", "scale": {"type": "linear", "domain": [-3.21, -3.0, -2.0, -1.56, -1.22, -0.81, -0.1, 0.42, 1.01, 1.33, 1.78, 2.29, 2.83, 3.21], "range": ["#542788", "#603c96", "#a39dc9", "#b8b5d6", "#cdcde2", "#dfe0ec", "#f3f3f3", "#f9ecde", "#fcdfb5", "#f9d097", "#f4b76a", "#e5983a", "#c77017", "#b35806"], "interpolate": "rgb"}, "legend": null}
     }
    }
   ],
   "spacing": 12
  }
 ],
 "spacing": 8
}
